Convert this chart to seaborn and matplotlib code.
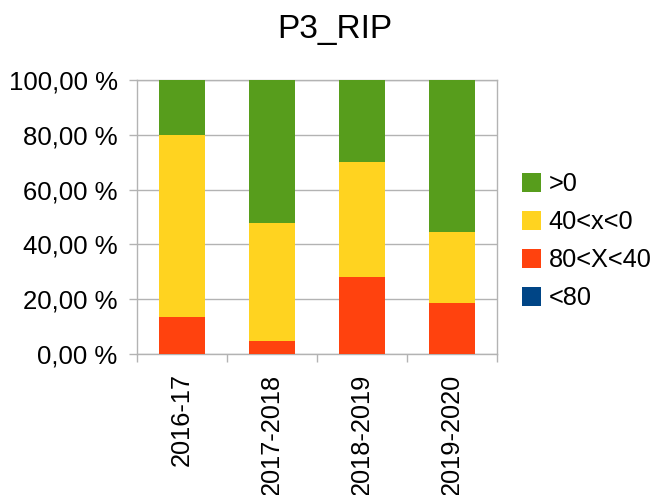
import numpy as np
import pandas as pd
import matplotlib
matplotlib.use("Agg")
import matplotlib.pyplot as plt
from matplotlib.patches import Patch
from matplotlib.ticker import FuncFormatter, FixedLocator
import seaborn as sns

years = ['2016-17', '2017-2018', '2018-2019', '2019-2020']
lt80 = [0.0, 0.0, 0.0, 0.0]
s80_40 = [13.5, 4.7, 28.1, 18.6]
s40_0 = [66.5, 43.1, 42.0, 25.9]
gt0 = [20.0, 52.2, 29.9, 55.5]

series_names = ['<80', '80<X<40', '40<x<0', '>0']
colors = {'>0': '#579d1c', '40<x<0': '#ffd320', '80<X<40': '#ff420e', '<80': '#004586'}

sns.set_theme(style='white')
plt.rcParams['font.family'] = ['Liberation Sans', 'DejaVu Sans']
plt.rcParams['text.color'] = 'black'
plt.rcParams['xtick.labelcolor'] = 'black'
plt.rcParams['ytick.labelcolor'] = 'black'

df = pd.DataFrame({'year': years, '<80': lt80, '80<X<40': s80_40,
                   '40<x<0': s40_0, '>0': gt0})
cum = df[series_names].cumsum(axis=1)

fig = plt.figure(figsize=(6.52, 4.95), dpi=100)
ax = fig.add_axes([137 / 652, 1 - 354 / 495, 360 / 652, 274 / 495])

# draw cumulative totals top-down so each layer paints over the previous
for name in reversed(series_names):
    sns.barplot(x=df['year'], y=cum[name], color=colors[name], width=0.51,
                saturation=1, linewidth=0, ax=ax, zorder=3)

ax.set_xlim(-0.5, 3.5)
ax.set_ylim(0, 100)
ax.set_yticks(np.arange(0, 101, 20))
ax.yaxis.set_major_formatter(FuncFormatter(lambda v, p: f'{v:.2f} %'.replace('.', ',')))
ax.grid(axis='y', color='#b3b3b3', linewidth=1, zorder=0)
ax.set_axisbelow(True)
ax.set_xlabel('')
ax.set_ylabel('')

for sp in ax.spines.values():
    sp.set_color('#b3b3b3')
    sp.set_linewidth(1)

ax.set_xticks(range(len(years)))
ax.set_xticklabels(years, rotation=90, fontsize=18.3)
ax.xaxis.set_minor_locator(FixedLocator(np.arange(-0.5, 3.6, 1)))
ax.tick_params(axis='x', which='major', length=0, pad=14)
ax.tick_params(axis='x', which='minor', length=6, color='#b3b3b3', width=1, bottom=True)
ax.tick_params(axis='y', length=6, color='#b3b3b3', width=1, labelsize=18.5, pad=8, left=True)

fig.text(0.514, 0.94, 'P3_RIP', ha='center', va='center', fontsize=24)

handles = [Patch(facecolor=colors[n], edgecolor='none', label=n)
           for n in ['>0', '40<x<0', '80<X<40', '<80']]
fig.legend(handles=handles, loc='upper left', bbox_to_anchor=(512 / 652, 1 - 162 / 495),
           frameon=False, fontsize=18.3, handlelength=0.75, handleheight=0.75,
           handletextpad=0.3, labelspacing=0.55, borderaxespad=0)

fig.savefig('out.png', dpi=100)
